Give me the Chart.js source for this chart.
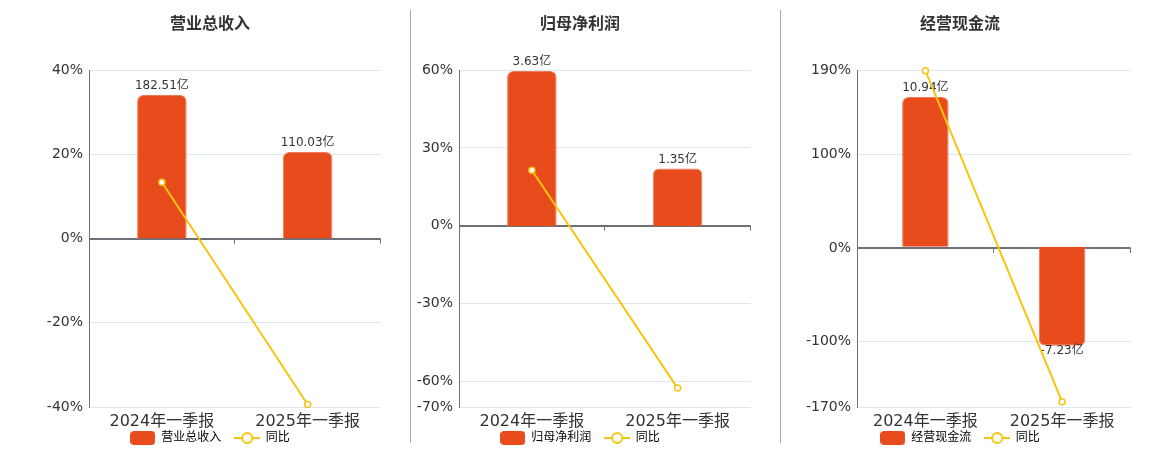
<!DOCTYPE html>
<html>
<head>
<meta charset="utf-8">
<script src="https://cdn.jsdelivr.net/npm/chart.js@4.4.0/dist/chart.umd.min.js"></script>
<style>
  body { margin: 0; background: #fff; width: 1160px; height: 450px; position: relative; overflow: hidden; }
  .panel { position: absolute; top: 0; height: 460px; }
  .sep { position: absolute; top: 10px; height: 433px; width: 1px; background: #aaa; }
</style>
</head>
<body>
<div class="sep" style="left:410px"></div>
<div class="sep" style="left:780px"></div>
<div class="panel" style="left:34px;width:352px"><canvas id="c1"></canvas></div>
<div class="panel" style="left:404px;width:352px"><canvas id="c2"></canvas></div>
<div class="panel" style="left:784px;width:352px"><canvas id="c3"></canvas></div>
<script>
// 数据
var categories = ['2024年一季报', '2025年一季报'];

var revenueName = '营业总收入';
var revenueValues = [182.51, 110.03];
var revenueYoY = [13.4, -39.4];
var revenueTicks = [40, 20, 0, -20, -40];

var profitName = '归母净利润';
var profitValues = [3.63, 1.35];
var profitYoY = [21.4, -62.7];
var profitTicks = [60, 30, 0, -30, -60, -70];

var cashName = '经营现金流';
var cashValues = [10.94, -7.23];
var cashYoY = [189.5, -164.5];
var cashTicks = [190, 100, 0, -100, -170];

var yoyName = '同比';

var FONT = '"DejaVu Sans", "Noto Sans CJK SC", sans-serif';
var BAR_COLOR = '#E84C1D';
var LINE_COLOR = '#F5C50F';
var AXIS_COLOR = '#6E7079';
var GRID_COLOR = '#E0E6F1';

// 图例图标
function makeBarIcon() {
    var c = document.createElement('canvas');
    c.width = 25; c.height = 14;
    var g = c.getContext('2d');
    g.fillStyle = BAR_COLOR;
    g.beginPath();
    g.roundRect(0, 0, 25, 14, 4);
    g.fill();
    return c;
}
function makeLineIcon() {
    var c = document.createElement('canvas');
    c.width = 26; c.height = 14;
    var g = c.getContext('2d');
    g.strokeStyle = LINE_COLOR;
    g.lineWidth = 2;
    g.beginPath();
    g.moveTo(0, 7); g.lineTo(26, 7);
    g.stroke();
    g.fillStyle = '#fff';
    g.beginPath();
    g.arc(13, 7, 5, 0, Math.PI * 2);
    g.fill();
    g.stroke();
    return c;
}
var barIcon = makeBarIcon();
var lineIcon = makeLineIcon();

// 柱子上的数值标签
var barLabelPlugin = {
    id: 'barLabels',
    afterDatasetDraw: function (chart, args) {
        if (args.meta.type !== 'bar') return;
        var ctx = chart.ctx;
        var data = chart.data.datasets[args.index].data;
        ctx.save();
        ctx.font = '12px ' + FONT;
        ctx.fillStyle = '#333';
        ctx.textAlign = 'center';
        ctx.textBaseline = 'middle';
        args.meta.data.forEach(function (el, i) {
            var v = data[i];
            var y = v >= 0 ? el.y - 9 : el.y + 5;
            ctx.fillText(v.toFixed(2) + '亿', el.x, y);
        });
        ctx.restore();
    }
};

// 零轴上的刻度短线
var zeroTickPlugin = {
    id: 'zeroTicks',
    afterDraw: function (chart) {
        var x = chart.scales.x, y = chart.scales.y;
        var y0 = y.getPixelForValue(0);
        var n = chart.data.labels.length;
        var ctx = chart.ctx;
        ctx.save();
        ctx.strokeStyle = AXIS_COLOR;
        ctx.lineWidth = 1;
        for (var i = 1; i <= n; i++) {
            var px = Math.round(x.left + i * x.width / n) - 0.5;
            ctx.beginPath();
            ctx.moveTo(px, y0);
            ctx.lineTo(px, y0 + 5);
            ctx.stroke();
        }
        ctx.restore();
    }
};

function makePanel(id, name, values, yoy, ticks, opt) {
    var ctx = document.getElementById(id).getContext('2d');
    return new Chart(ctx, {
        type: 'bar',
        data: {
            labels: categories,
            datasets: [{
                type: 'line',
                label: yoyName,
                data: yoy,
                yAxisID: 'y',
                order: 0,
                borderColor: LINE_COLOR,
                borderWidth: 2,
                pointRadius: 3,
                pointBorderWidth: 1.5,
                pointBackgroundColor: '#fff',
                pointBorderColor: LINE_COLOR,
                clip: false
            }, {
                label: name,
                data: values,
                yAxisID: 'yb',
                order: 1,
                backgroundColor: BAR_COLOR,
                borderColor: '#F07A58',
                borderWidth: 1,
                borderRadius: 6,
                barPercentage: 0.34,
                categoryPercentage: 1
            }]
        },
        options: {
            responsive: true,
            maintainAspectRatio: false,
            animation: false,
            layout: { padding: { left: 0, right: 0, top: 0, bottom: 6 } },
            scales: {
                x: {
                    offset: true,
                    grid: { display: false, drawTicks: false },
                    border: { display: false },
                    ticks: { color: '#333', font: { family: FONT, size: 16 }, padding: 5 },
                    afterFit: function (s) { s.height = 23; }
                },
                y: {
                    position: 'left',
                    min: ticks[ticks.length - 1],
                    max: ticks[0],
                    afterBuildTicks: function (s) {
                        s.ticks = ticks.map(function (v) { return { value: v }; });
                    },
                    afterFit: function (s) { s.width = opt.yWidth; },
                    border: { display: true, color: AXIS_COLOR, width: 1 },
                    grid: {
                        drawTicks: false,
                        color: function (c) { return c.tick && c.tick.value === 0 ? AXIS_COLOR : GRID_COLOR; },
                        lineWidth: function (c) { return c.tick && c.tick.value === 0 ? 2 : 1; }
                    },
                    ticks: {
                        color: '#333',
                        font: { family: FONT, size: 14 },
                        padding: 6,
                        callback: function (v) { return v + '%'; }
                    }
                },
                yb: {
                    display: false,
                    min: opt.barMin,
                    max: opt.barMax
                }
            },
            plugins: {
                title: {
                    display: true,
                    text: name,
                    color: '#333',
                    font: { family: FONT, size: 16, weight: 'bold' },
                    padding: { top: 15, bottom: 36 }
                },
                legend: {
                    position: 'bottom',
                    labels: {
                        usePointStyle: true,
                        pointStyleWidth: 25,
                        boxHeight: 14,
                        padding: 2,
                        color: '#333',
                        font: { family: FONT, size: 12 },
                        generateLabels: function () {
                            // 两个图例项之间留出间距
                            return [
                                { text: name + '   ', pointStyle: barIcon, fillStyle: BAR_COLOR, strokeStyle: BAR_COLOR, lineWidth: 0, datasetIndex: 1 },
                                { text: yoyName, pointStyle: lineIcon, fillStyle: '#fff', strokeStyle: LINE_COLOR, lineWidth: 0, datasetIndex: 0 }
                            ];
                        }
                    }
                },
                tooltip: { enabled: false }
            }
        },
        plugins: [barLabelPlugin, zeroTickPlugin]
    });
}

makePanel('c1', revenueName, revenueValues, revenueYoY, revenueTicks,
    { yWidth: 55, barMin: -214, barMax: 214 });
makePanel('c2', profitName, profitValues, profitYoY, profitTicks,
    { yWidth: 55, barMin: -4.24, barMax: 3.65 });
makePanel('c3', cashName, cashValues, cashYoY, cashTicks,
    { yWidth: 73, barMin: -11.7, barMax: 12.9 });
</script>
</body>
</html>
